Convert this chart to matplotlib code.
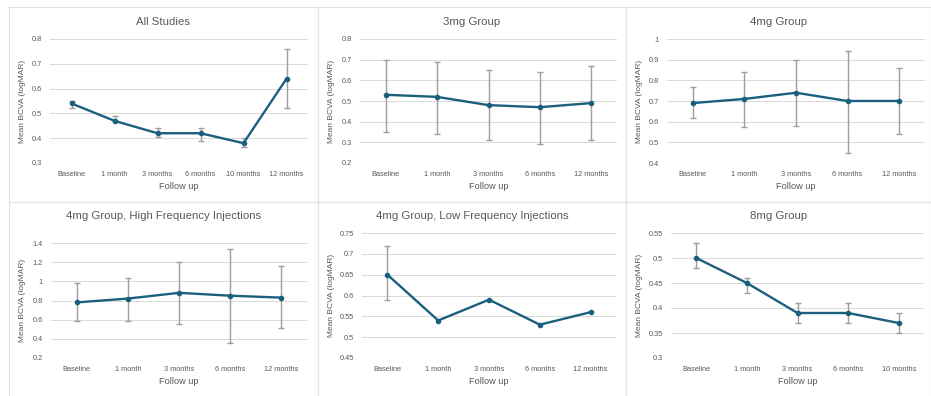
import matplotlib
matplotlib.use("Agg")
import matplotlib.pyplot as plt
from matplotlib.lines import Line2D

plt.rcParams['font.family'] = ['Liberation Sans', 'DejaVu Sans']

W, H = 931, 396

# ---- data ----
cats_12 = ["Baseline", "1 month", "3 months", "6 months", "10 months", "12 months"]
cats_5 = ["Baseline", "1 month", "3 months", "6 months", "12 months"]
cats_8mg = ["Baseline", "1 month", "3 months", "6 months", "10 months"]

all_mean = [0.54, 0.47, 0.42, 0.42, 0.38, 0.64]
all_hi = [0.55, 0.49, 0.44, 0.44, 0.40, 0.76]
all_lo = [0.52, 0.465, 0.405, 0.39, 0.363, 0.52]

mg3_mean = [0.53, 0.52, 0.48, 0.47, 0.49]
mg3_hi = [0.70, 0.69, 0.65, 0.64, 0.67]
mg3_lo = [0.35, 0.34, 0.31, 0.29, 0.31]

mg4_mean = [0.69, 0.71, 0.74, 0.70, 0.70]
mg4_hi = [0.77, 0.84, 0.90, 0.94, 0.86]
mg4_lo = [0.62, 0.575, 0.58, 0.45, 0.54]

hf_mean = [0.78, 0.82, 0.88, 0.85, 0.83]
hf_hi = [0.98, 1.04, 1.20, 1.34, 1.155]
hf_lo = [0.59, 0.59, 0.56, 0.36, 0.51]

lf_mean = [0.65, 0.54, 0.59, 0.53, 0.56]
lf_hi = [0.72, None, None, None, None]
lf_lo = [0.59, None, None, None, None]

mg8_mean = [0.50, 0.45, 0.39, 0.39, 0.37]
mg8_hi = [0.53, 0.46, 0.41, 0.41, 0.39]
mg8_lo = [0.48, 0.43, 0.37, 0.37, 0.35]

titles = ["All Studies", "3mg Group", "4mg Group",
          "4mg Group, High Frequency Injections",
          "4mg Group, Low Frequency Injections", "8mg Group"]

LINE = "#1b5f7e"
ERR = "#9e9e9e"
GRID = "#d9d9d9"
TXT = "#595959"

fig = plt.figure(figsize=(W / 100, H / 100), dpi=100)
fig.patch.set_facecolor("white")


def fx(x):
    return x / W


def fy(y):
    return 1 - y / H


# panel borders
for (x0, y0, x1, y1) in [(9, 7, 318, 202), (318, 7, 626, 202), (626, 7, 931, 202),
                         (9, 202, 318, 400), (318, 202, 626, 400), (626, 202, 931, 400)]:
    for xs, ys in [((x0, x1), (y0, y0)), ((x0, x1), (y1, y1)),
                   ((x0, x0), (y0, y1)), ((x1, x1), (y0, y1))]:
        fig.add_artist(Line2D([fx(xs[0]), fx(xs[1])], [fy(ys[0]), fy(ys[1])],
                              color="#e3e3e3", lw=0.8))

panels = [
    dict(cats=cats_12, m=all_mean, hi=all_hi, lo=all_lo, ticks=[0.3, 0.4, 0.5, 0.6, 0.7, 0.8],
         box=(50, 39, 308, 163), panel=(9, 318), ty=22),
    dict(cats=cats_5, m=mg3_mean, hi=mg3_hi, lo=mg3_lo, ticks=[0.2, 0.3, 0.4, 0.5, 0.6, 0.7, 0.8],
         box=(360, 39, 617, 163), panel=(318, 626), ty=22),
    dict(cats=cats_5, m=mg4_mean, hi=mg4_hi, lo=mg4_lo, ticks=[0.4, 0.5, 0.6, 0.7, 0.8, 0.9, 1.0],
         box=(667, 39, 925, 163), panel=(626, 931), ty=22),
    dict(cats=cats_5, m=hf_mean, hi=hf_hi, lo=hf_lo, ticks=[0.2, 0.4, 0.6, 0.8, 1.0, 1.2, 1.4],
         box=(51, 243, 307, 358), panel=(9, 318), ty=216),
    dict(cats=cats_5, m=lf_mean, hi=lf_hi, lo=lf_lo, ticks=[0.45, 0.5, 0.55, 0.6, 0.65, 0.7, 0.75],
         box=(362, 233, 616, 358), panel=(318, 626), ty=216),
    dict(cats=cats_8mg, m=mg8_mean, hi=mg8_hi, lo=mg8_lo, ticks=[0.3, 0.35, 0.4, 0.45, 0.5, 0.55],
         box=(671, 233, 924, 358), panel=(626, 931), ty=216),
]

for p, title in zip(panels, titles):
    x0, y0, x1, y1 = p["box"]
    ax = fig.add_axes([fx(x0), fy(y1), (x1 - x0) / W, (y1 - y0) / H])
    n = len(p["cats"])
    xs = list(range(n))
    for i in xs:
        if p["hi"][i] is not None:
            ax.errorbar([i], [p["m"][i]],
                        yerr=[[p["m"][i] - p["lo"][i]], [p["hi"][i] - p["m"][i]]],
                        fmt="none", ecolor=ERR, elinewidth=1.0, capsize=2.5,
                        capthick=1.0, zorder=2)
    ax.plot(xs, p["m"], color=LINE, lw=1.7, marker="o", ms=3, zorder=3)
    ax.set_xlim(-0.5, n - 0.5)
    t = p["ticks"]
    ax.set_ylim(t[0], t[-1])
    ax.set_yticks(t)
    ax.set_yticklabels([f"{round(v, 2):g}" for v in t])
    ax.set_xticks(xs)
    ax.set_xticklabels(p["cats"])
    ax.tick_params(length=0, labelsize=5.3, labelcolor=TXT, pad=5.5)
    ax.tick_params(axis="y", pad=6)
    for s in ax.spines.values():
        s.set_visible(False)
    ax.grid(axis="y", color=GRID, lw=0.7)
    ax.set_axisbelow(True)
    ax.set_xlabel("Follow up", fontsize=6.6, color=TXT, labelpad=3.5)
    ax.set_ylabel("Mean BCVA (logMAR)", fontsize=6.0, color=TXT)
    ax.yaxis.set_label_coords((p["panel"][0] + 17 - x0) / (x1 - x0), 0.5)
    fig.text(fx((p["panel"][0] + p["panel"][1]) / 2), fy(p["ty"]), title,
             ha="center", va="center", fontsize=8.2, color=TXT)

fig.savefig("out.png", dpi=100, facecolor="white")
